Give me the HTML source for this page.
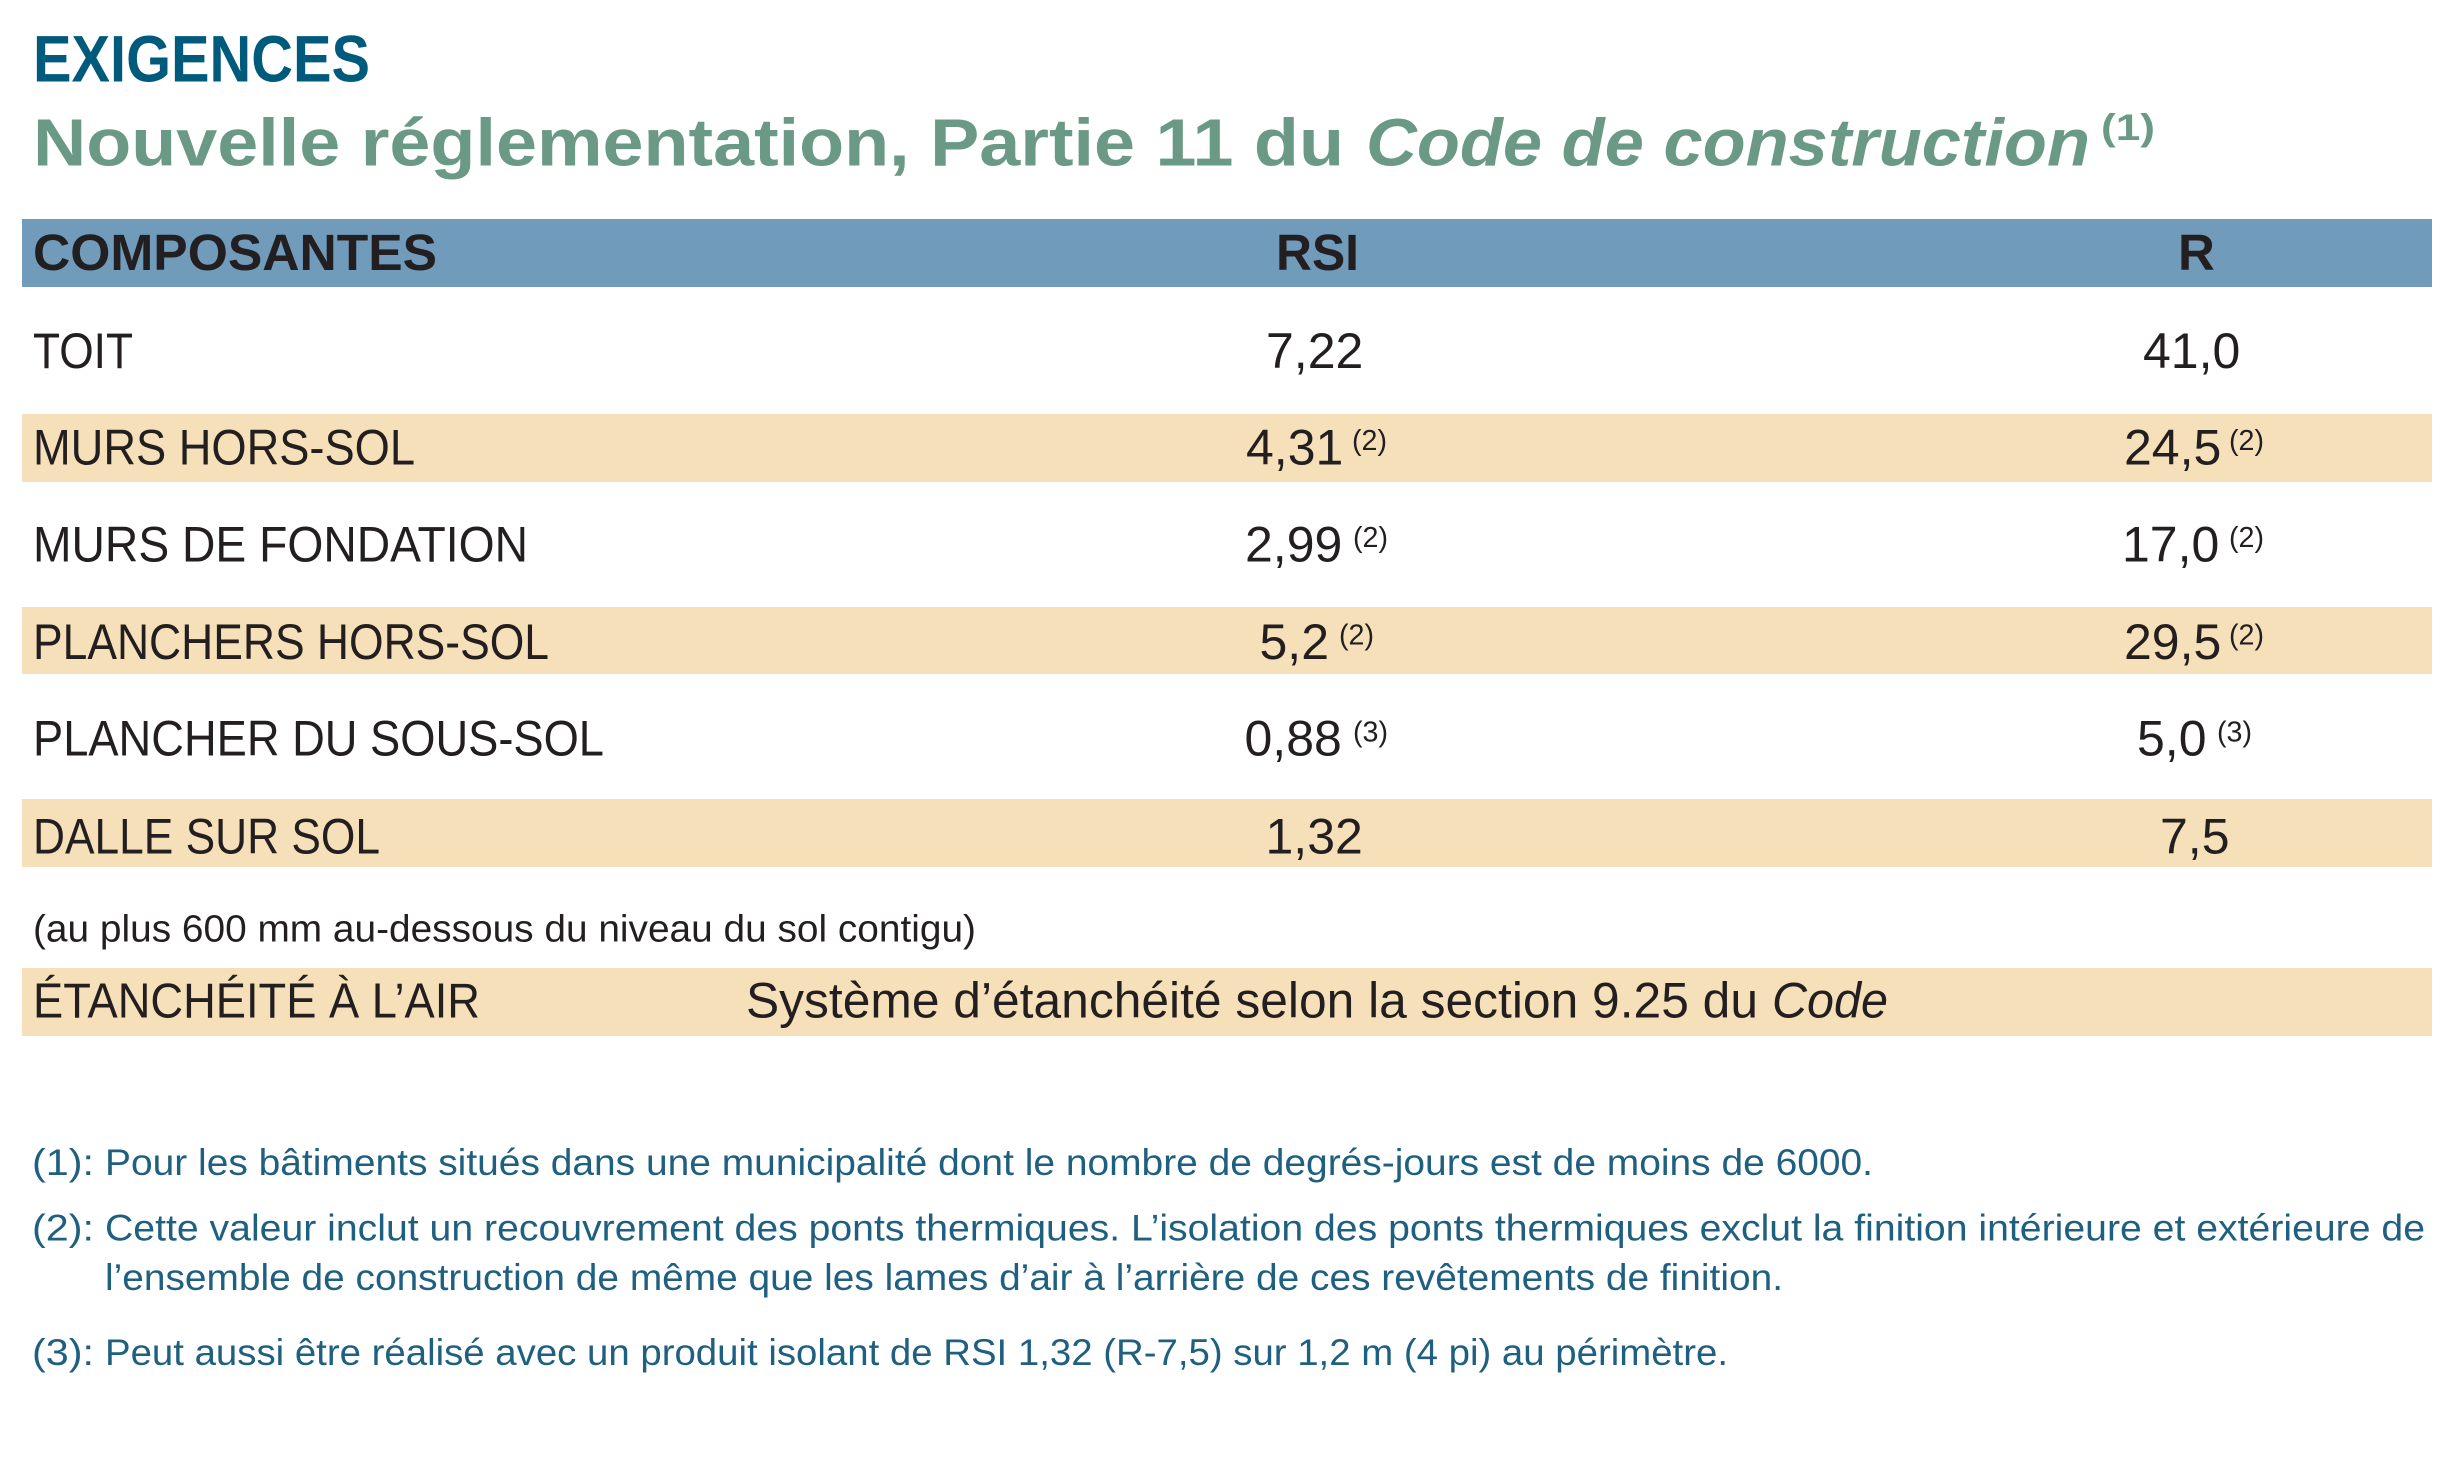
<!DOCTYPE html>
<html>
<head>
<meta charset="utf-8">
<style>
  html, body { margin: 0; padding: 0; background: #ffffff; }
  svg { display: block; }
  text { font-family: "Liberation Sans", Arial, sans-serif; }
</style>
</head>
<body>
<svg width="2458" height="1457" viewBox="0 0 2458 1457" xmlns="http://www.w3.org/2000/svg">
  <rect x="0" y="0" width="2458" height="1457" fill="#ffffff"/>

  <!-- Titles -->
  <text x="33" y="81.7" font-size="66" font-weight="bold" fill="#005A7B" textLength="337" lengthAdjust="spacingAndGlyphs">EXIGENCES</text>
  <text x="33" y="165.5" font-size="67" font-weight="bold" fill="#6A9985" textLength="1311" lengthAdjust="spacingAndGlyphs">Nouvelle réglementation, Partie 11 du</text>
  <text x="1366" y="165.5" font-size="67" font-weight="bold" font-style="italic" fill="#6A9985" textLength="724" lengthAdjust="spacingAndGlyphs">Code de construction</text>
  <text x="2101" y="140" font-size="37" font-weight="bold" fill="#6A9985" textLength="54" lengthAdjust="spacingAndGlyphs">(1)</text>

  <!-- Header bar -->
  <rect x="22" y="219" width="2410" height="68" fill="#709BBB"/>
  <text x="33" y="270" font-size="51" font-weight="bold" fill="#231F20" textLength="404" lengthAdjust="spacingAndGlyphs">COMPOSANTES</text>
  <text x="1276" y="270" font-size="51" font-weight="bold" fill="#231F20" textLength="83" lengthAdjust="spacingAndGlyphs">RSI</text>
  <text x="2178" y="270" font-size="51" font-weight="bold" fill="#231F20">R</text>

  <!-- Bands -->
  <rect x="22" y="414" width="2410" height="68" fill="#F6E0BA"/>
  <rect x="22" y="607" width="2410" height="67" fill="#F6E0BA"/>
  <rect x="22" y="799" width="2410" height="68" fill="#F6E0BA"/>
  <rect x="22" y="968" width="2410" height="68" fill="#F6E0BA"/>

  <!-- Labels -->
  <g font-size="50" fill="#231F20">
    <text x="33" y="368" textLength="100" lengthAdjust="spacingAndGlyphs">TOIT</text>
    <text x="33" y="464.3" textLength="382" lengthAdjust="spacingAndGlyphs">MURS HORS-SOL</text>
    <text x="33" y="561.5" textLength="495" lengthAdjust="spacingAndGlyphs">MURS DE FONDATION</text>
    <text x="33" y="658.8" textLength="516" lengthAdjust="spacingAndGlyphs">PLANCHERS HORS-SOL</text>
    <text x="33" y="755.7" textLength="571" lengthAdjust="spacingAndGlyphs">PLANCHER DU SOUS-SOL</text>
    <text x="33" y="853.3" textLength="347" lengthAdjust="spacingAndGlyphs">DALLE SUR SOL</text>
  </g>

  <!-- Values -->
  <g font-size="50" fill="#231F20">
    <text x="1266" y="368">7,22</text>
    <text x="2143" y="368">41,0</text>

    <text x="1246" y="464.3">4,31</text>
    <text x="2124" y="464.3">24,5</text>

    <text x="1245" y="561.5">2,99</text>
    <text x="2122" y="561.5">17,0</text>

    <text x="1259.5" y="658.8">5,2</text>
    <text x="2124" y="658.8">29,5</text>

    <text x="1244.5" y="755.7">0,88</text>
    <text x="2137" y="755.7">5,0</text>

    <text x="1265.5" y="853.3">1,32</text>
    <text x="2160" y="853.3">7,5</text>
  </g>

  <!-- Superscripts -->
  <g font-size="29" fill="#231F20">
    <text x="1352" y="450" textLength="35" lengthAdjust="spacingAndGlyphs">(2)</text>
    <text x="2229" y="450" textLength="35" lengthAdjust="spacingAndGlyphs">(2)</text>
    <text x="1353" y="547" textLength="35" lengthAdjust="spacingAndGlyphs">(2)</text>
    <text x="2229" y="547" textLength="35" lengthAdjust="spacingAndGlyphs">(2)</text>
    <text x="1339" y="644.5" textLength="35" lengthAdjust="spacingAndGlyphs">(2)</text>
    <text x="2229" y="644.5" textLength="35" lengthAdjust="spacingAndGlyphs">(2)</text>
    <text x="1353" y="741.5" textLength="35" lengthAdjust="spacingAndGlyphs">(3)</text>
    <text x="2217" y="741.5" textLength="35" lengthAdjust="spacingAndGlyphs">(3)</text>
  </g>

  <!-- Note -->
  <text x="33" y="941.7" font-size="38" fill="#231F20" textLength="943" lengthAdjust="spacingAndGlyphs">(au plus 600 mm au-dessous du niveau du sol contigu)</text>

  <!-- Air tightness row -->
  <text x="33" y="1017.3" font-size="49" fill="#231F20" textLength="447" lengthAdjust="spacingAndGlyphs">ÉTANCHÉITÉ À L’AIR</text>
  <text x="746" y="1017.5" font-size="50" fill="#231F20" textLength="1012" lengthAdjust="spacingAndGlyphs">Système d’étanchéité selon la section 9.25 du</text>
  <text x="1772" y="1017.5" font-size="50" font-style="italic" fill="#231F20" textLength="116" lengthAdjust="spacingAndGlyphs">Code</text>

  <!-- Footnotes -->
  <g font-size="37" fill="#1F5F80">
    <text x="32" y="1175" textLength="62" lengthAdjust="spacingAndGlyphs">(1):</text>
    <text x="105" y="1175" textLength="1768" lengthAdjust="spacingAndGlyphs">Pour les bâtiments situés dans une municipalité dont le nombre de degrés-jours est de moins de 6000.</text>

    <text x="32" y="1240.7" textLength="62" lengthAdjust="spacingAndGlyphs">(2):</text>
    <text x="105" y="1240.7" textLength="2320" lengthAdjust="spacingAndGlyphs">Cette valeur inclut un recouvrement des ponts thermiques. L’isolation des ponts thermiques exclut la finition intérieure et extérieure de</text>
    <text x="105" y="1290" textLength="1678" lengthAdjust="spacingAndGlyphs">l’ensemble de construction de même que les lames d’air à l’arrière de ces revêtements de finition.</text>

    <text x="32" y="1365" textLength="62" lengthAdjust="spacingAndGlyphs">(3):</text>
    <text x="105" y="1365" textLength="1623" lengthAdjust="spacingAndGlyphs">Peut aussi être réalisé avec un produit isolant de RSI 1,32 (R-7,5) sur 1,2 m (4 pi) au périmètre.</text>
  </g>
</svg>
</body>
</html>
